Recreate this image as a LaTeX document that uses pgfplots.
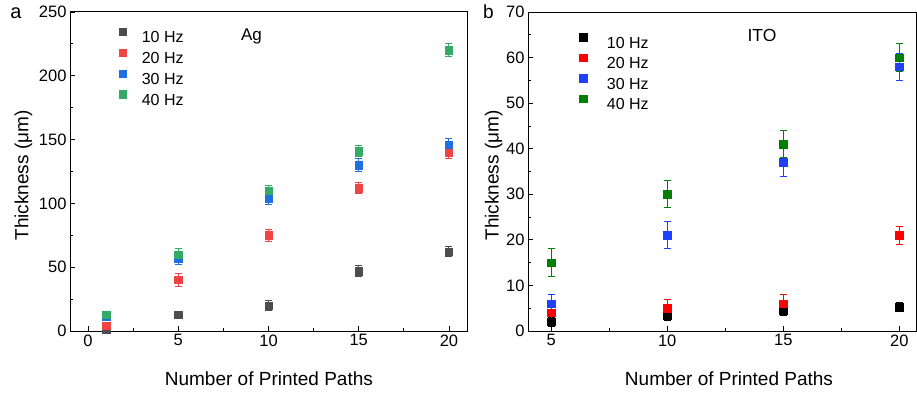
\documentclass[border=0pt]{standalone}
\usepackage{fontspec}
\setmainfont{Liberation Sans}
\usepackage{pgfplots}
\pgfplotsset{compat=1.18}
\definecolor{agGray}{HTML}{4D4D4D}
\definecolor{agRed}{HTML}{F04444}
\definecolor{agBlue}{HTML}{1F6FE0}
\definecolor{agGreen}{HTML}{33AA66}
\definecolor{itoBlack}{HTML}{000000}
\definecolor{itoRed}{HTML}{FF0000}
\definecolor{itoBlue}{HTML}{2040FF}
\definecolor{itoGreen}{HTML}{008000}
\pgfplotsset{
  panel/.style={
    scale only axis, height=319bp, ymin=0,
    axis line style={line width=1bp},
    tick align=inside, xtick pos=bottom, ytick pos=left,
    major tick length=5bp, minor tick length=3bp,
    every tick/.style={line width=0.8bp, black},
    minor x tick num=1, minor y tick num=1,
    /pgf/number format/assume math mode=true,
    tick label style={font=\fontsize{16.5bp}{19bp}\selectfont},
    label style={font=\fontsize{19bp}{22bp}\selectfont},
    xlabel={Number of Printed Paths},
    ylabel={Thickness (μm)},
    legend cell align=left,
    legend image code/.code={\draw[##1] plot coordinates {(0bp,5.5bp)};},
    clip=false,
  },
  ser/.style={only marks, mark=square*, mark size=3.7bp, color=#1,
    mark options={draw=#1, fill=#1, line width=0.4bp},
    error bars/.cd, y dir=both, y explicit,
    error bar style={line width=1bp, color=#1},
    error mark options={rotate=90, mark size=3.5bp, line width=1bp, color=#1}},
}
\begin{document}
\begin{tikzpicture}
\begin{axis}[panel, name=left, at={(0bp,0bp)}, anchor=south west,
  width=397bp, xmin=-1, xmax=21, ymax=250,
  xtick={0,5,10,15,20}, ytick={0,50,100,150,200,250},
  xlabel style={at={(axis description cs:0.501,-0.1693)}, anchor=base},
  ylabel style={at={(axis description cs:-0.105,0.4875)}, anchor=base},
  legend style={draw=none, fill=none, inner sep=0pt, outer sep=0pt,
    at={(0.1234,0.950)}, anchor=north west, column sep=15.4bp, row sep=6.2bp,
    nodes={inner sep=0pt, text height=11bp, text depth=0bp, font=\fontsize{16bp}{18bp}\selectfont}},
]
\addplot[ser=agGray] table[x=x, y=y, y error=e] {
x y e
1 1 1
5 13 2
10 20 4
15 47 4
20 62 4
};
\addlegendentry{10 Hz}
\addplot[ser=agRed] table[x=x, y=y, y error=e] {
x y e
1 4 3
5 40 5
10 75 4.5
15 112 4.5
20 140 5
};
\addlegendentry{20 Hz}
\addplot[ser=agBlue] table[x=x, y=y, y error=e] {
x y e
1 11 3
5 57 5
10 104 5
15 130 5
20 146 5
};
\addlegendentry{30 Hz}
\addplot[ser=agGreen] table[x=x, y=y, y error=e] {
x y e
1 13 2
5 60 5
10 110 4
15 141 4
20 220 5
};
\addlegendentry{40 Hz}
\node[anchor=base, font=\fontsize{17bp}{20bp}\selectfont] at (rel axis cs:0.457,0.912) {Ag};
\node[anchor=base, font=\fontsize{20bp}{24bp}\selectfont] at (rel axis cs:-0.136,0.981) {a};
\end{axis}
\begin{axis}[panel, name=right, at={(458bp,0bp)}, anchor=south west,
  width=388bp, xmin=4, xmax=20.72, ymax=70,
  xtick={5,10,15,20}, ytick={0,10,20,30,40,50,60,70},
  xlabel style={at={(axis description cs:0.518,-0.1693)}, anchor=base},
  ylabel style={at={(axis description cs:-0.076,0.4875)}, anchor=base},
  legend style={draw=none, fill=none, inner sep=0pt, outer sep=0pt,
    at={(0.1332,0.932)}, anchor=north west, column sep=19.8bp, row sep=5.8bp,
    nodes={inner sep=0pt, text height=11bp, text depth=0bp, font=\fontsize{16bp}{18bp}\selectfont}},
]
\addplot[ser=itoBlack] table[x=x, y=y, y error=e] {
x y e
5 2 1
10 3.3 1
15 4.5 1
20 5.2 1
};
\addlegendentry{10 Hz}
\addplot[ser=itoRed] table[x=x, y=y, y error=e] {
x y e
5 4 2
10 5 2
15 6 2
20 21 2
};
\addlegendentry{20 Hz}
\addplot[ser=itoBlue] table[x=x, y=y, y error=e] {
x y e
5 6 2
10 21 3
15 37 3
20 58 3
};
\addlegendentry{30 Hz}
\addplot[ser=itoGreen] table[x=x, y=y, y error=e] {
x y e
5 15 3
10 30 3
15 41 3
20 60 3
};
\addlegendentry{40 Hz}
\node[anchor=base, font=\fontsize{17.5bp}{21bp}\selectfont] at (rel axis cs:0.603,0.907) {ITO};
\node[anchor=base, font=\fontsize{19bp}{23bp}\selectfont] at (rel axis cs:-0.102,0.98) {b};
\end{axis}
\pgfresetboundingbox
\path[use as bounding box] (-70bp,-62bp) rectangle (847bp,331bp);
\end{tikzpicture}
\end{document}
